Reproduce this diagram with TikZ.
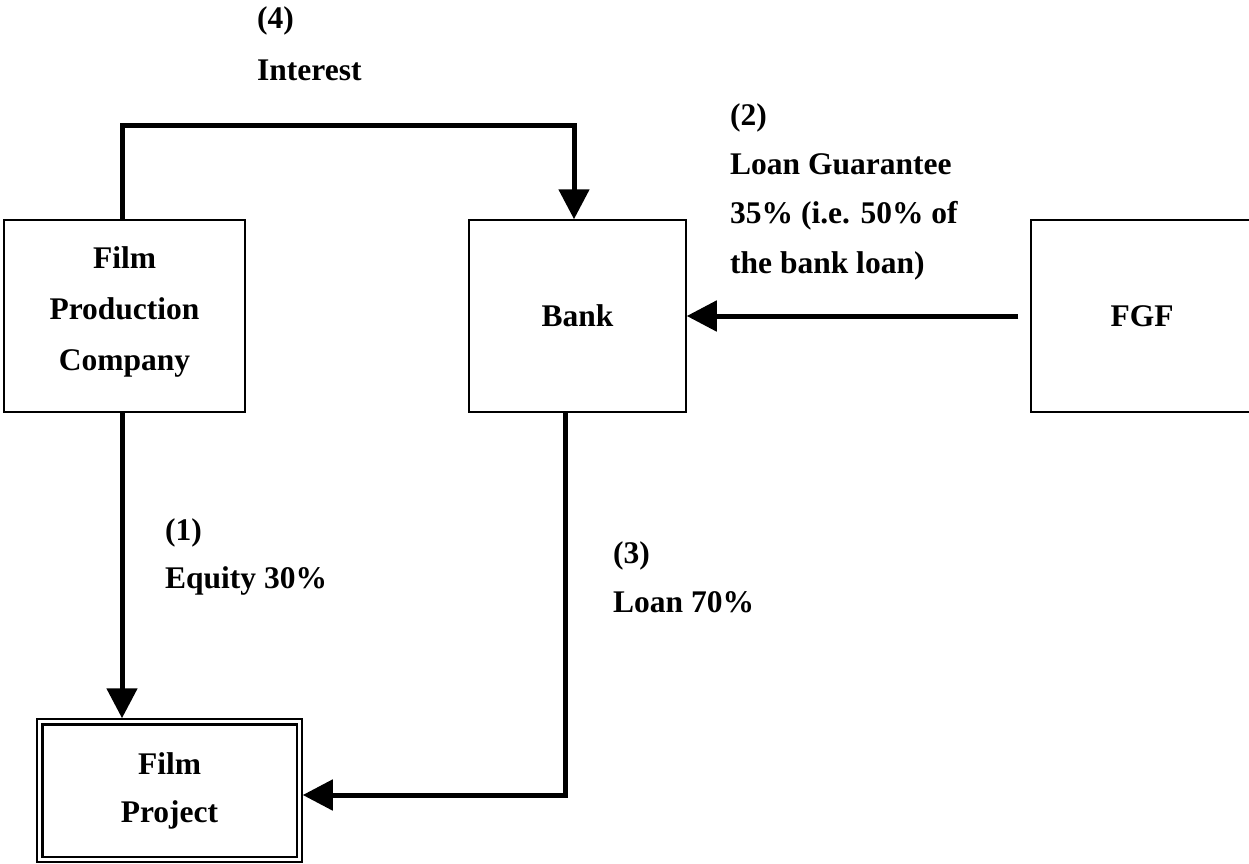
\documentclass[tikz,border=0pt]{standalone}
\usepackage{fontspec}
\setmainfont{Liberation Serif}
\usetikzlibrary{arrows.meta,calc}
\begin{document}
\begin{tikzpicture}[x=1pt,y=-1pt,
  box/.style={draw=black,line width=1.5pt,align=center,inner sep=0pt,
    font=\bfseries\fontsize{31.5}{51}\selectfont},
  conn/.style={line width=5pt,-{Triangle[length=30pt,width=30pt]}},
  lbl/.style={anchor=west,align=left,inner sep=0pt}]
\useasboundingbox (0,0) rectangle (1249,863);
\clip (0,0) rectangle (1249,863);
% boxes
\node[box,minimum width=241pt,minimum height=192pt] (fpc) at (124.5,316) {};
\node[align=center,inner sep=0pt,font=\bfseries\fontsize{31.5}{51}\selectfont] (fpct) at (124.5,311.5) {Film\\Production\\Company};
\node[box,minimum width=217pt,minimum height=192pt] (bank) at (577.5,316) {Bank};
\node[box,minimum width=222pt,minimum height=192pt] (fgf) at (1142,316) {FGF};
\node[box,minimum width=265pt,minimum height=143pt,
  font=\bfseries\fontsize{31.5}{48}\selectfont] (proj) at (169.5,790.5) {Film\\Project};
\draw[line width=2.5pt] ([shift={(6pt,-6pt)}]proj.north west) rectangle ([shift={(-6pt,6pt)}]proj.south east);
% labels
\node[lbl,font=\bfseries\fontsize{31.5}{52}\selectfont] (l4) at (257,44) {(4)\\Interest};
\node[lbl,font=\bfseries\fontsize{31.5}{49.3}\selectfont] (l2) at (730,191.5) {(2)\\Loan Guarantee\\35\% (i.e. 50\% of\\the bank loan)};
\node[lbl,font=\bfseries\fontsize{31.5}{48}\selectfont] (l1) at (165,557) {(1)\\Equity 30\%};
\node[lbl,font=\bfseries\fontsize{31.5}{49}\selectfont] (l3) at (613,577.5) {(3)\\Loan 70\%};
% connectors
\coordinate (topy) at (0,125);
\draw[conn] ([xshift=-2.5pt]fpc.north) -- ([xshift=-2.5pt]fpc.north |- topy) -| ([xshift=-3.5pt]bank.north);
\draw[conn] ([xshift=-2.5pt]fpc.south) -- ([xshift=-2.5pt]fpc.south |- proj.north);
\draw[conn] ([xshift=-12.5pt]bank.south) |- ([yshift=-4.5pt]proj.east);
\draw[conn] ([xshift=-12pt]fgf.west) -- (bank.east);
\end{tikzpicture}
\end{document}
